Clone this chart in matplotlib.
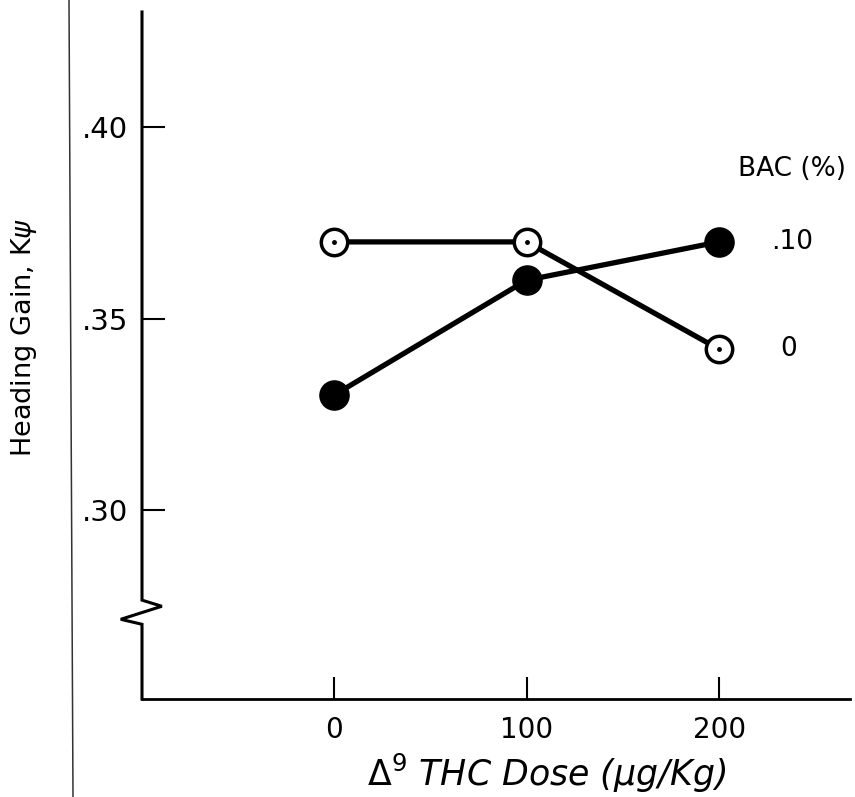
import matplotlib
matplotlib.use("Agg")
import matplotlib.pyplot as plt
from matplotlib.lines import Line2D

# data
dose = [0, 100, 200]
gain_bac0 = [0.370, 0.370, 0.342]   # open circles, BAC 0 %
gain_bac10 = [0.330, 0.360, 0.370]  # filled circles, BAC .10 %
yticks = [0.30, 0.35, 0.40]
ytick_labels = [".30", ".35", ".40"]
xticks = [0, 100, 200]
xtick_labels = ["0", "100", "200"]

fig = plt.figure(figsize=(8.55, 7.97), dpi=100)
ax = fig.add_axes([142/855, 1 - 699/797, 708/855, 687/797])

ymin, ymax = 0.2507, 0.430
ax.set_xlim(-99.7, 268)
ax.set_ylim(ymin, ymax)

# lines first, markers on top
ax.plot(dose, gain_bac0, color="black", lw=3.8, zorder=2)
ax.plot(dose, gain_bac10, color="black", lw=3.8, zorder=2)
ax.plot(dose, gain_bac10, "o", color="black", ms=21, zorder=3)
ax.plot(dose, gain_bac0, "o", mfc="white", mec="black", mew=2.5, ms=19, zorder=4)
ax.plot(dose, gain_bac0, "o", color="black", ms=2.5, zorder=5)

# series labels at right
ax.text(238, 0.3889, "BAC (%)", fontsize=19, ha="center", va="center")
ax.text(238, gain_bac10[-1], ".10", fontsize=19, ha="center", va="center")
ax.text(236, gain_bac0[-1], "0", fontsize=19, ha="center", va="center")

# axes style
for s in ["top", "right", "left"]:
    ax.spines[s].set_visible(False)
ax.spines["bottom"].set_linewidth(2)

ax.set_yticks(yticks)
ax.set_yticklabels(ytick_labels)
ax.set_xticks(xticks)
ax.set_xticklabels(xtick_labels)
ax.tick_params(axis="y", direction="in", length=16.5, width=1.5, pad=10, labelsize=21)
ax.tick_params(axis="x", direction="in", length=16, width=1.5, pad=12, labelsize=20)

# left spine with break mark
tr = ax.get_yaxis_transform()
brk_x = [0, 0, 0.028, -0.030, 0, 0]
brk_y = [ymax, 0.2765, 0.2749, 0.2715, 0.2702, ymin]
ax.add_line(Line2D(brk_x, brk_y, transform=tr, color="black", lw=2.2,
                   clip_on=False, solid_joinstyle="miter"))

ax.set_ylabel(r"Heading Gain, K$\psi$", fontsize=19.5)
ax.yaxis.set_label_coords(-0.167, 0.527)
ax.yaxis.label.set_va("center")
ax.set_xlabel(r"$\Delta^9$ THC Dose ($\mu$g/Kg)", fontsize=25, fontstyle="italic")
ax.xaxis.set_label_coords(0.572, -0.108)
ax.xaxis.label.set_va("center")

# scan border line on the left
fig.add_artist(Line2D([69/855, 73/855], [1, 0], color="#333333", lw=1.1))

fig.savefig("out.png", dpi=100)
